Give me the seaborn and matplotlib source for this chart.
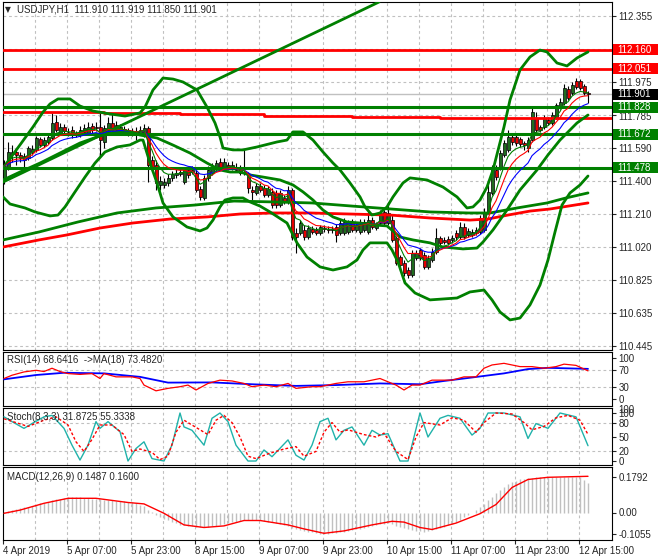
import matplotlib
matplotlib.use("Agg")
import matplotlib.pyplot as plt
from matplotlib.patches import Rectangle
import seaborn as sns
import pandas as pd

sns.set_style("white")
plt.rcParams['font.family'] = ['Liberation Sans', 'DejaVu Sans']
plt.rcParams['axes.linewidth'] = 0.8

# ---------------- data ----------------
title_text = "USDJPY,H1  111.910 111.919 111.850 111.901"
rsi_text = "RSI(14) 68.6416  ->MA(18) 73.4820"
stoch_text = "Stoch(8,3,3) 31.8725 55.3338"
macd_text = "MACD(12,26,9) 0.1487 0.1600"

bars = list(range(147))
opens = [111.406, 111.475, 111.556, 111.568, 111.551, 111.545, 111.533, 111.568, 111.580, 111.643,
         111.608, 111.626, 111.649, 111.742, 111.678, 111.713, 111.684, 111.695, 111.678, 111.666,
         111.684, 111.678, 111.718, 111.713, 111.713, 111.626, 111.695, 111.736, 111.724, 111.695,
         111.701, 111.695, 111.690, 111.690, 111.678, 111.666, 111.707, 111.522, 111.493, 111.377,
         111.377, 111.389, 111.418, 111.435, 111.441, 111.394, 111.464, 111.452, 111.446, 111.354,
         111.302, 111.418, 111.446, 111.470, 111.510, 111.481, 111.493, 111.475, 111.481, 111.475,
         111.452, 111.441, 111.348, 111.331, 111.371, 111.360, 111.319, 111.337, 111.331, 111.261,
         111.302, 111.279, 111.348, 111.099, 111.099, 111.117, 111.076, 111.122, 111.117, 111.099,
         111.128, 111.122, 111.117, 111.134, 111.099, 111.099, 111.105, 111.163, 111.117, 111.105,
         111.117, 111.105, 111.174, 111.128, 111.157, 111.221, 111.157, 111.174, 111.070, 110.960,
         110.926, 110.885, 110.856, 110.955, 111.001, 110.972, 110.902, 110.943, 110.989, 111.070,
         111.059, 111.065, 111.059, 111.099, 111.076, 111.134, 111.088, 111.088, 111.099, 111.105,
         111.117, 111.221, 111.331, 111.464, 111.475, 111.551, 111.580, 111.655, 111.655, 111.643,
         111.620, 111.591, 111.637, 111.765, 111.713, 111.713, 111.753, 111.736, 111.771, 111.828,
         111.852, 111.933, 111.909, 111.979, 111.979, 111.950, 111.910]
highs = [111.522, 111.626, 111.608, 111.580, 111.568, 111.562, 111.603, 111.608, 111.661, 111.655,
         111.655, 111.678, 111.794, 111.782, 111.736, 111.730, 111.707, 111.718, 111.690, 111.718,
         111.730, 111.742, 111.736, 111.742, 111.799, 111.724, 111.771, 111.794, 111.747, 111.730,
         111.718, 111.707, 111.707, 111.713, 111.718, 111.730, 111.718, 111.545, 111.522, 111.429,
         111.418, 111.441, 111.458, 111.475, 111.470, 111.481, 111.481, 111.487, 111.464, 111.371,
         111.435, 111.487, 111.504, 111.522, 111.533, 111.533, 111.510, 111.516, 111.504, 111.493,
         111.580, 111.452, 111.371, 111.389, 111.389, 111.377, 111.371, 111.360, 111.348, 111.348,
         111.319, 111.371, 111.360, 111.128, 111.174, 111.146, 111.146, 111.140, 111.134, 111.146,
         111.146, 111.140, 111.140, 111.151, 111.174, 111.186, 111.174, 111.180, 111.163, 111.180,
         111.180, 111.232, 111.192, 111.163, 111.232, 111.232, 111.279, 111.203, 111.082, 110.972,
         110.943, 110.902, 111.001, 111.001, 111.012, 110.989, 110.972, 111.012, 111.128, 111.082,
         111.076, 111.082, 111.088, 111.117, 111.163, 111.157, 111.128, 111.122, 111.134, 111.203,
         111.244, 111.377, 111.493, 111.493, 111.580, 111.637, 111.695, 111.678, 111.666, 111.655,
         111.632, 111.655, 111.823, 111.799, 111.724, 111.782, 111.771, 111.799, 111.852, 111.880,
         111.962, 111.950, 111.973, 111.996, 111.990, 111.962, 111.919]
lows = [111.383, 111.464, 111.510, 111.493, 111.510, 111.481, 111.522, 111.551, 111.568, 111.597,
        111.597, 111.614, 111.637, 111.684, 111.666, 111.678, 111.661, 111.649, 111.655, 111.655,
        111.672, 111.666, 111.678, 111.690, 111.539, 111.591, 111.684, 111.678, 111.678, 111.684,
        111.672, 111.661, 111.661, 111.637, 111.666, 111.655, 111.394, 111.452, 111.348, 111.348,
        111.360, 111.371, 111.400, 111.418, 111.429, 111.383, 111.418, 111.441, 111.337, 111.290,
        111.290, 111.400, 111.435, 111.458, 111.470, 111.470, 111.464, 111.464, 111.452, 111.435,
        111.435, 111.331, 111.290, 111.319, 111.337, 111.308, 111.308, 111.244, 111.244, 111.250,
        111.267, 111.267, 111.059, 110.984, 111.088, 111.059, 111.065, 111.094, 111.088, 111.088,
        111.105, 111.099, 111.099, 111.047, 111.088, 111.088, 111.094, 111.105, 111.105, 111.094,
        111.105, 111.094, 111.122, 111.117, 111.146, 111.146, 111.146, 111.047, 110.914, 110.885,
        110.850, 110.839, 110.845, 110.943, 110.943, 110.891, 110.891, 110.931, 110.978, 111.030,
        111.036, 111.030, 111.042, 111.059, 111.065, 111.065, 111.076, 111.076, 111.088, 111.094,
        111.105, 111.209, 111.319, 111.406, 111.464, 111.539, 111.568, 111.608, 111.603, 111.597,
        111.580, 111.568, 111.626, 111.684, 111.684, 111.701, 111.724, 111.724, 111.759, 111.817,
        111.840, 111.869, 111.898, 111.933, 111.927, 111.898, 111.850]
closes = [111.487, 111.568, 111.568, 111.551, 111.533, 111.522, 111.591, 111.585, 111.649, 111.608,
          111.637, 111.655, 111.736, 111.695, 111.713, 111.690, 111.682, 111.678, 111.666, 111.695,
          111.707, 111.713, 111.695, 111.707, 111.637, 111.707, 111.736, 111.695, 111.695, 111.713,
          111.684, 111.678, 111.678, 111.672, 111.695, 111.707, 111.493, 111.481, 111.389, 111.400,
          111.394, 111.418, 111.441, 111.446, 111.452, 111.464, 111.435, 111.464, 111.348, 111.308,
          111.418, 111.464, 111.481, 111.504, 111.481, 111.510, 111.475, 111.493, 111.464, 111.446,
          111.446, 111.360, 111.337, 111.371, 111.348, 111.319, 111.354, 111.261, 111.261, 111.331,
          111.279, 111.348, 111.076, 111.076, 111.157, 111.076, 111.128, 111.105, 111.099, 111.134,
          111.122, 111.117, 111.122, 111.088, 111.157, 111.163, 111.163, 111.117, 111.146, 111.163,
          111.163, 111.174, 111.134, 111.146, 111.215, 111.157, 111.215, 111.059, 110.926, 110.914,
          110.868, 110.856, 110.984, 110.984, 110.955, 110.902, 110.955, 110.989, 111.070, 111.042,
          111.047, 111.042, 111.070, 111.076, 111.134, 111.076, 111.111, 111.105, 111.117, 111.186,
          111.221, 111.337, 111.475, 111.423, 111.562, 111.620, 111.655, 111.626, 111.620, 111.614,
          111.608, 111.637, 111.799, 111.695, 111.695, 111.765, 111.736, 111.782, 111.840, 111.857,
          111.938, 111.880, 111.956, 111.944, 111.938, 111.909, 111.901]

# bands / envelopes (bar position, price)
upper_x = [-0.25, 4, 7.25, 9.75, 11.5, 13.5, 16.5, 19, 22.25, 26.5, 30.25, 34, 35.25, 37.25, 39.75,
           42.25, 44.75, 48.25, 50.75, 52.75, 54, 54.75, 57.25, 59.75, 63.25, 68.25, 70.75, 72.25,
           74.75, 77.25, 79.75, 82.25, 84, 86.5, 89, 90.25, 92, 94, 95.75, 97.25, 99.75, 101.5,
           105.75, 109.75, 113.25, 115.75, 117.25, 119, 120.75, 122.25, 125, 126.5, 129, 131.5,
           134, 135.75, 138.25, 140.75, 143.25, 146]
upper_p = [111.475, 111.609, 111.713, 111.799, 111.846, 111.875, 111.875, 111.834, 111.805, 111.788,
           111.776, 111.794, 111.828, 111.927, 111.996, 111.990, 111.973, 111.927, 111.828, 111.736,
           111.655, 111.591, 111.580, 111.580, 111.597, 111.626, 111.637, 111.684, 111.684, 111.637,
           111.568, 111.504, 111.464, 111.389, 111.308, 111.250, 111.203, 111.215, 111.250, 111.308,
           111.389, 111.418, 111.406, 111.365, 111.308, 111.244, 111.250, 111.290, 111.365, 111.464,
           111.713, 111.869, 112.043, 112.118, 112.158, 112.147, 112.083, 112.066, 112.112, 112.147]
lower_x = [-0.25, 1.5, 5.25, 7.75, 11.5, 13.5, 15.25, 17.75, 20.25, 22.75, 25.25, 28.25, 31.5, 34,
           34.75, 36.5, 38.25, 39.75, 42.25, 45.75, 49, 50.75, 52.25, 54, 55.25, 57.25, 59.75, 61.5,
           64, 66.5, 70.75, 73.25, 75.75, 79, 82.25, 85.75, 88.25, 89.75, 91.5, 95.75, 97, 98.5,
           100.25, 102.75, 106.5, 113.25, 116.5, 120, 122, 124, 126.5, 129, 131.5, 134, 136, 137.75,
           139.5, 141.5, 144, 146]
lower_p = [111.308, 111.267, 111.244, 111.221, 111.198, 111.203, 111.250, 111.337, 111.423, 111.504,
           111.568, 111.597, 111.609, 111.637, 111.637, 111.504, 111.389, 111.273, 111.192, 111.134,
           111.111, 111.128, 111.174, 111.250, 111.290, 111.302, 111.302, 111.279, 111.255, 111.221,
           111.157, 111.042, 110.960, 110.903, 110.885, 110.903, 110.943, 111.001, 111.042, 111.042,
           111.001, 110.931, 110.810, 110.752, 110.712, 110.723, 110.758, 110.769, 110.712, 110.642,
           110.596, 110.607, 110.683, 110.798, 110.943, 111.105, 111.261, 111.331, 111.377, 111.429]
mid_x = [-0.25, 4, 9, 14, 19, 24, 27.75, 31.5, 34, 38.25, 42.25, 46.5, 50.75, 54, 56.5, 59, 61.5,
         64.75, 69, 72.25, 74.75, 77.25, 79.75, 82.25, 85.75, 89, 92.25, 95.75, 99, 102.25, 106.5,
         109.75, 114.75, 118.25, 119.75, 122.25, 125.75, 129, 133.25, 136, 139, 143.25, 146]
mid_p = [111.406, 111.452, 111.504, 111.562, 111.620, 111.661, 111.684, 111.684, 111.666, 111.649,
         111.608, 111.562, 111.504, 111.464, 111.452, 111.452, 111.435, 111.423, 111.406, 111.377,
         111.337, 111.290, 111.232, 111.192, 111.163, 111.157, 111.146, 111.140, 111.076, 111.059,
         111.042, 111.018, 111.007, 111.012, 111.047, 111.117, 111.232, 111.348, 111.464, 111.551,
         111.637, 111.736, 111.782]
ma100_x = [-0.25, 8.75, 18.5, 28.25, 38, 47.75, 57.5, 67.25, 77, 87, 96.75, 106.5, 116.25, 121.5,
           128.25, 135.75, 140.5, 146]
ma100_p = [111.059, 111.105, 111.163, 111.215, 111.244, 111.261, 111.284, 111.279, 111.273, 111.255,
           111.238, 111.221, 111.215, 111.215, 111.244, 111.273, 111.302, 111.331]
ma200_x = [-0.25, 8.75, 15.75, 24, 32.25, 41.5, 50.75, 59, 67.25, 76.5, 86.5, 96.5, 106.5, 116.5,
           121, 126, 131.5, 136.5, 146]
ma200_p = [111.018, 111.059, 111.088, 111.128, 111.157, 111.180, 111.192, 111.209, 111.215, 111.215,
           111.209, 111.203, 111.186, 111.174, 111.180, 111.203, 111.226, 111.238, 111.273]
trend_x = [-0.25, 93.75]
trend_p = [111.394, 112.436]
step_x = [-0.25, 25, 44, 65, 87, 109, 125, 152]
step_p = [111.799, 111.791, 111.785, 111.776, 111.771, 111.767, 111.762, 111.762]

red_levels = [112.160, 112.051]
green_levels = [111.828, 111.672, 111.478]
last_price = 111.901

price_ticks = [112.355, 112.164, 111.975, 111.782, 111.590, 111.400, 111.210, 111.020, 110.825, 110.635, 110.445]
price_tick_labels = ["112.355", "", "111.975", "", "111.590", "111.400", "111.210", "111.020",
                     "110.825", "110.635", "110.445"]
crowded_label = "111.785"
crowded_label_at = 111.770

time_tick_bars = [0, 16, 32, 48, 64, 80, 96, 112, 128, 144]
time_tick_labels = ["4 Apr 2019", "5 Apr 07:00", "5 Apr 23:00", "8 Apr 15:00", "9 Apr 07:00",
                    "9 Apr 23:00", "10 Apr 15:00", "11 Apr 07:00", "11 Apr 23:00", "12 Apr 15:00"]

rsi_x = [0, 2, 5, 8, 10, 12, 14, 16, 19, 22, 24, 25, 28, 32, 34, 35, 38, 41, 44, 46, 48, 51, 54, 57,
         60, 62, 65, 68, 71, 73, 77, 79, 83, 86, 90, 94, 96, 98, 100, 102, 104, 107, 112, 115, 118,
         120, 122, 125, 129, 132, 135, 138, 140, 143, 146]
rsi_v = [50, 58, 66, 70, 67, 75, 67, 62, 60, 62, 50, 62, 54, 54, 50, 34, 20, 26, 30, 34, 22, 38, 46, 44,
         38, 30, 34, 30, 38, 26, 30, 30, 38, 42, 42, 50, 42, 34, 22, 34, 34, 46, 46, 54, 54,
         75, 83, 87, 79, 79, 75, 79, 85, 82, 68.64]
rsi_ma_x = [0, 8, 15, 25, 34, 41, 52, 62, 73, 83, 94, 104, 110, 115, 125, 131, 136, 146]
rsi_ma_v = [48, 58.5, 64, 62.5, 54, 40, 40.5, 36, 32, 34, 38, 36, 44, 50, 62.5, 73, 76, 73.48]

st_x = [0, 2, 5, 7, 10, 12, 15, 17, 19, 21, 23, 24, 26, 29, 31, 33, 35, 37, 40, 42, 44, 45, 47, 50,
        52, 54, 56, 58, 61, 63, 65, 67, 71, 73, 75, 77, 79, 81, 83, 85, 87, 90, 92, 94, 96, 99, 101,
        104, 106, 109, 111, 114, 117, 119, 121, 125, 129, 131, 133, 136, 139, 143, 146]
st_v = [92, 82, 68, 78, 92, 95, 68, 33, 2, 33, 82, 68, 82, 61, 0, 26, 40, 5, 0, 33, 100, 71, 64, 33,
        89, 100, 82, 33, 0, 0, 23, 9, 44, 12, 2, 33, 82, 89, 44, 64, 71, 33, 64, 54, 57, 0, 0,
        100, 50, 89, 95, 89, 54, 68, 100, 100, 92, 47, 78, 68, 100, 92, 31.87]
sig_x = [0, 3, 6, 10, 13, 16, 18, 20, 22, 24, 27, 30, 32, 34, 37, 39, 41, 43, 45, 48, 51, 53, 55, 57,
         59, 61, 63, 66, 70, 73, 75, 78, 80, 82, 84, 86, 90, 93, 95, 98, 101, 103, 105, 109, 112,
         115, 118, 120, 123, 127, 130, 132, 135, 138, 141, 144, 146]
sig_v = [88, 80, 72, 85, 92, 75, 40, 20, 45, 75, 75, 55, 20, 25, 18, 3, 10, 60, 85, 70, 55, 85, 95, 80,
         50, 10, 5, 15, 25, 30, 10, 20, 60, 80, 60, 65, 55, 50, 58, 20, 3, 50, 80, 75, 90,
         85, 60, 80, 100, 98, 80, 65, 72, 90, 95, 85, 55.33]

macd_hist = [0.005, 0.010, 0.014, 0.018, 0.022, 0.026, 0.030, 0.035, 0.040, 0.046,
             0.050, 0.055, 0.062, 0.066, 0.070, 0.073, 0.076, 0.077, 0.078, 0.077,
             0.075, 0.072, 0.070, 0.067, 0.066, 0.065, 0.064, 0.062, 0.060, 0.058,
             0.056, 0.055, 0.053, 0.050, 0.040, 0.033, 0.015, 0.002, -0.012, -0.022,
             -0.030, -0.037, -0.045, -0.052, -0.060, -0.064, -0.067, -0.069, -0.070, -0.072,
             -0.072, -0.071, -0.069, -0.066, -0.062, -0.057, -0.053, -0.049, -0.045, -0.040,
             -0.037, -0.036, -0.036, -0.037, -0.038, -0.041, -0.045, -0.049, -0.053, -0.057,
             -0.062, -0.066, -0.075, -0.083, -0.088, -0.092, -0.095, -0.098, -0.102, -0.105,
             -0.107, -0.107, -0.104, -0.101, -0.098, -0.095, -0.092, -0.089, -0.084, -0.080,
             -0.075, -0.070, -0.066, -0.062, -0.058, -0.055, -0.054, -0.058, -0.065, -0.070,
             -0.076, -0.082, -0.087, -0.090, -0.093, -0.095, -0.093, -0.089, -0.083, -0.078,
             -0.071, -0.064, -0.055, -0.045, -0.035, -0.023, -0.012, -0.002, 0.012, 0.028,
             0.045, 0.062, 0.080, 0.098, 0.115, 0.130, 0.142, 0.152, 0.160, 0.166,
             0.170, 0.173, 0.175, 0.176, 0.177, 0.177, 0.177, 0.177, 0.178, 0.178,
             0.179, 0.179, 0.179, 0.179, 0.179, 0.165, 0.149]
macd_sig_x = [0, 4, 10, 16, 23, 31, 35, 40, 45, 50, 55, 60, 64, 71, 75, 80, 85, 92, 97, 100, 104, 107,
              113, 119, 123, 127, 131, 136, 142, 146]
macd_sig_v = [-0.004, 0.012, 0.046, 0.071, 0.071, 0.050, 0.043, -0.004, -0.062, -0.075, -0.067, -0.040,
              -0.040, -0.062, -0.082, -0.104, -0.092, -0.062, -0.044, -0.048, -0.075, -0.085,
              -0.053, -0.006, 0.040, 0.125, 0.165, 0.176, 0.179, 0.181]

# ---------------- figure ----------------
W, H = 660, 560
fig = plt.figure(figsize=(6.6, 5.6), dpi=100)
fig.patch.set_facecolor('white')


def box(x0, y0, x1, y1):
    return [x0 / W, 1 - y1 / H, (x1 - x0) / W, (y1 - y0) / H]


ax = fig.add_axes(box(3, 2, 612, 350))
ax_rsi = fig.add_axes(box(3, 352, 612, 406))
ax_st = fig.add_axes(box(3, 408, 612, 465))
ax_m = fig.add_axes(box(3, 467, 612, 540))
axes = [ax, ax_rsi, ax_st, ax_m]

GRID = '#c0c0c0'
DASH = (0, (2.5, 2.5))
FS = 7


def line(a, x, y, color, lw, z=4, **kw):
    sns.lineplot(x=x, y=y, ax=a, color=color, linewidth=lw, sort=False,
                 estimator=None, legend=False, zorder=z, **kw)


for a in axes:
    a.set_facecolor('white')
    for s in a.spines.values():
        s.set_color('black')
        s.set_linewidth(0.8)
    for k in range(1, 19):
        a.axvline(8 * k - 0.25, color=GRID, lw=0.8, ls=DASH, zorder=0.5)

# ---- main price panel ----
for p in price_ticks:
    ax.axhline(p, color=GRID, lw=0.8, ls=DASH, zorder=0.5)
ax.axhline(last_price, color=GRID, lw=1.0, zorder=1)

bull_c = '#1f6b1f'
bear_c = '#e60000'
ax.vlines(bars, lows, highs, color='black', lw=0.8, zorder=3)
body_h = [c - o for o, c in zip(opens, closes)]
body_col = [bull_c if c >= o else bear_c for o, c in zip(opens, closes)]
ax.bar(bars, body_h, bottom=opens, width=0.75, color=body_col, edgecolor='black',
       linewidth=0.5, zorder=3)

for p in red_levels:
    ax.axhline(p, color='#ff0000', lw=2.0, zorder=4)
for p in green_levels:
    ax.axhline(p, color='#008000', lw=2.2, zorder=4)

line(ax, step_x, step_p, '#ff0000', 2.0, drawstyle='steps-post')
line(ax, ma200_x, ma200_p, '#ff0000', 2.0)
line(ax, ma100_x, ma100_p, '#008000', 2.0)
line(ax, trend_x, trend_p, '#008000', 2.0)
line(ax, upper_x, upper_p, '#008000', 2.0)
line(ax, lower_x, lower_p, '#008000', 2.0)
line(ax, mid_x, mid_p, '#008000', 2.0)

cs = pd.Series(closes)
line(ax, bars, list(cs.ewm(span=13, adjust=False).mean()), '#0000ff', 0.8, z=5)
line(ax, bars, list(cs.ewm(span=8, adjust=False).mean()), '#ff0000', 0.8, z=5)
line(ax, bars, list(cs.ewm(span=5, adjust=False).mean()), '#008000', 0.8, z=5)

ax.set_ylim(110.422, 112.436)
ax.yaxis.tick_right()
ax.set_yticks(price_ticks)
ax.set_yticklabels(price_tick_labels)
ax.set_xticks([])

px = 1 / 172.8
ytr = ax.get_yaxis_transform()
ax.text(1.0098, crowded_label_at, crowded_label, transform=ytr, fontsize=FS, va='center',
        ha='left', clip_on=False)


def level_box(price, text, fc):
    ax.add_patch(Rectangle((1.0016, price - 5.5 * px), 0.0739, 11 * px, transform=ytr,
                           facecolor=fc, edgecolor='none', clip_on=False, zorder=6))
    ax.text(1.0082, price, text, transform=ytr, color='white', fontsize=FS, va='center',
            ha='left', clip_on=False, zorder=7)


for p in red_levels:
    level_box(p, f"{p:.3f}", '#ff0000')
for p in green_levels:
    level_box(p, f"{p:.3f}", '#008000')
level_box(last_price, f"{last_price:.3f}", '#000000')

# ---- RSI ----
for v in [30, 70]:
    ax_rsi.axhline(v, color=GRID, lw=0.8, ls=DASH, zorder=0.5)
line(ax_rsi, rsi_ma_x, rsi_ma_v, '#0000ff', 1.3)
line(ax_rsi, rsi_x, rsi_v, '#ff0000', 0.9)
ax_rsi.set_ylim(-17, 114.6)
ax_rsi.yaxis.tick_right()
ax_rsi.set_yticks([0, 30, 70, 100])
ax_rsi.set_yticklabels(["0", "30", "70", "100"])
ax_rsi.set_xticks([])

# ---- Stochastic ----
for v in [20, 80]:
    ax_st.axhline(v, color=GRID, lw=0.8, ls=DASH, zorder=0.5)
line(ax_st, st_x, st_v, '#20b2aa', 1.0)
line(ax_st, sig_x, sig_v, '#ff0000', 1.0, linestyle=(0, (2, 1.5)))
ax_st.set_ylim(-8.3, 110.4)
ax_st.yaxis.tick_right()
ax_st.set_yticks([0, 20, 50, 80, 100])
ax_st.set_yticklabels(["0", "20", "50", "80", "100"])
ax_st.set_xticks([])
ax_st.annotate("100", xy=(1, 100), xycoords=ax_st.get_yaxis_transform(), xytext=(4.5, 2.2),
               textcoords='offset points', fontsize=FS, va='center', ha='left',
               annotation_clip=False)

# ---- MACD ----
ax_m.vlines(bars, 0, macd_hist, colors='#c0c0c0', lw=1.0, zorder=2)
line(ax_m, macd_sig_x, macd_sig_v, '#ff0000', 1.0)
ax_m.set_ylim(-0.1375, 0.2275)
ax_m.yaxis.tick_right()
ax_m.set_yticks([-0.1055, 0.0, 0.1792])
ax_m.set_yticklabels(["-0.1055", "0.00", "0.1792"])
ax_m.set_xticks([b - 0.25 for b in time_tick_bars])
ax_m.set_xticklabels(time_tick_labels)
for t in ax_m.get_xticklabels():
    t.set_horizontalalignment('left')
ax_m.tick_params(axis='x', direction='out', length=3, width=0.8, pad=1.5, labelsize=FS,
                 bottom=True)

for a in axes:
    a.set_xlim(-0.25, 152)
    a.set_xlabel('')
    a.set_ylabel('')
    a.tick_params(axis='y', direction='out', length=3, width=0.8, pad=1.5, labelsize=FS,
                  right=True, left=False)

# ---- texts ----
fig.text(5 / W, 1 - 10 / H, "\u25bc", fontsize=5.5, va='center', ha='left',
         family=['DejaVu Sans'])
fig.text(17 / W, 1 - 10 / H, title_text, fontsize=FS, va='center', ha='left')
fig.text(7 / W, 1 - 360 / H, rsi_text, fontsize=FS, va='center', ha='left')
fig.text(7 / W, 1 - 417 / H, stoch_text, fontsize=FS, va='center', ha='left', zorder=10)
fig.text(7 / W, 1 - 477 / H, macd_text, fontsize=FS, va='center', ha='left')

fig.savefig("out.png", dpi=100)
